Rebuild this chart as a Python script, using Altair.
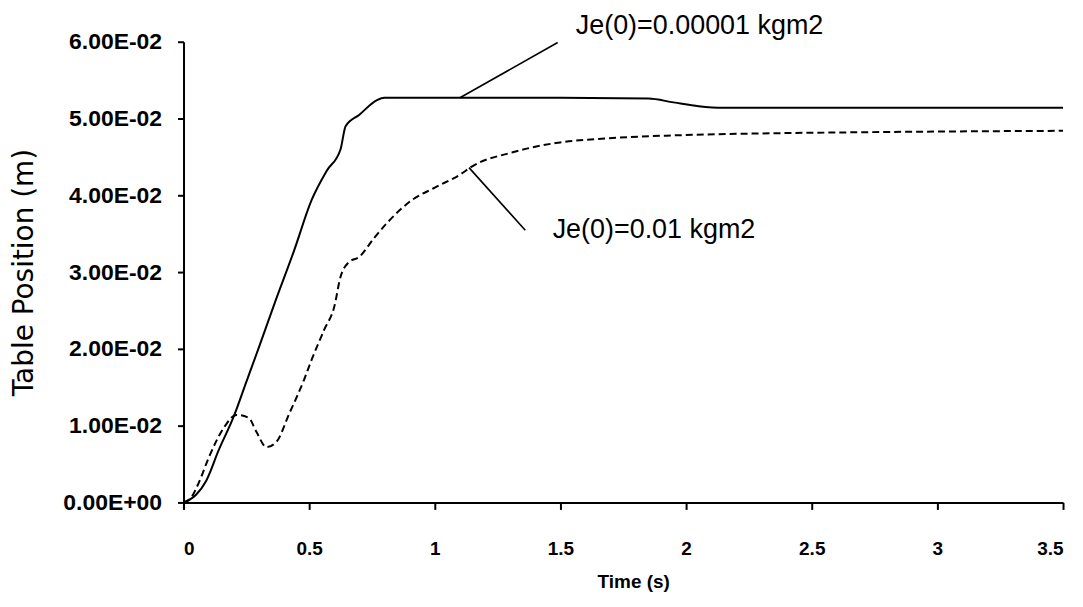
import altair as alt
import pandas as pd

# ---- data ----
solid_t = [0, 0.05, 0.09, 0.14, 0.2, 0.25, 0.3, 0.36, 0.44, 0.51, 0.57, 0.625, 0.645,
           0.70, 0.77, 0.80, 1.0, 1.5, 1.85, 1.95, 2.05, 2.15, 2.5, 3.0, 3.5]
solid_y = [0, 0.001, 0.0028, 0.0068, 0.0112, 0.0157, 0.0202, 0.0257, 0.0328, 0.0394, 0.0432,
           0.046, 0.049, 0.0505, 0.0524, 0.0527, 0.0527, 0.0527, 0.0526, 0.0521, 0.0516,
           0.0514, 0.0514, 0.0514, 0.0514]

dashed_t = [0, 0.025, 0.06, 0.10, 0.16, 0.21, 0.26, 0.29, 0.33, 0.37, 0.42, 0.48, 0.51,
            0.56, 0.60, 0.625, 0.655, 0.70, 0.76, 0.81, 0.91, 1.0, 1.11, 1.14, 1.31, 1.48,
            1.68, 1.95, 2.2, 2.66, 3.0, 3.5]
dashed_y = [0, 0.0004, 0.0025, 0.0058, 0.0097, 0.0114, 0.011, 0.0092, 0.0072, 0.0079,
            0.0115, 0.016, 0.0186, 0.0225, 0.0255, 0.0294, 0.0312, 0.032, 0.0345, 0.0364,
            0.0394, 0.041, 0.0429, 0.0436, 0.0456, 0.0468, 0.0474, 0.0478, 0.048, 0.0482,
            0.0483, 0.0484]

x_ticks = [0, 0.5, 1, 1.5, 2, 2.5, 3, 3.5]
y_ticks = [0, 0.01, 0.02, 0.03, 0.04, 0.05, 0.06]
y_tick_labels = ["0.00E+00", "1.00E-02", "2.00E-02", "3.00E-02", "4.00E-02", "5.00E-02", "6.00E-02"]

labels = ["Je(0)=0.00001 kgm2", "Je(0)=0.01 kgm2"]
label_t = [1.561, 1.469]
label_y = [0.0621, 0.0355]
leader_t1 = [1.10, 1.136]
leader_y1 = [0.0527, 0.0436]
leader_t2 = [1.489, 1.360]
leader_y2 = [0.0599, 0.03545]

# ---- tables ----
df_solid = pd.DataFrame({"t": solid_t, "y": solid_y})
df_dashed = pd.DataFrame({"t": dashed_t, "y": dashed_y})
df_leader = pd.DataFrame({"t": leader_t1, "y": leader_y1, "t2": leader_t2, "y2": leader_y2})
df_label = pd.DataFrame({"t": label_t, "y": label_y, "text": labels})

label_array = "[" + ",".join("'%s'" % s for s in y_tick_labels) + "]"

xscale = alt.Scale(domain=[0, 3.5], nice=False, zero=False)
yscale = alt.Scale(domain=[0, 0.06], nice=False)

xaxis = alt.Axis(
    values=x_ticks, grid=False, domainColor="black", domainWidth=2,
    tickColor="black", tickWidth=2, tickSize=7,
    labelExpr="'' + datum.value", labelFont="Liberation Sans", labelFontWeight="bold",
    labelFontSize=19, labelColor="black", labelPadding=30,
    titleFont="Liberation Sans", titleFontWeight="bold", titleFontSize=19, titleColor="black",
    titleX=451, titleY=79, titleBaseline="middle", titleAlign="center",
)
yaxis = alt.Axis(
    values=y_ticks, grid=False, domainColor="black", domainWidth=2,
    tickColor="black", tickWidth=2, tickSize=6,
    labelExpr=label_array + "[round(datum.value*100)]",
    labelFont="Liberation Sans", labelFontWeight="bold", labelFontSize=23,
    labelColor="black", labelPadding=16,
    titleFont="DejaVu Sans", titleFontWeight="normal", titleFontSize=28, titleColor="black",
    titleX=-159, titleY=231, titleBaseline="middle", titleAlign="center", titleAngle=270,
)

X = alt.X("t:Q", scale=xscale, axis=xaxis, title="Time (s)")
Y = alt.Y("y:Q", scale=yscale, axis=yaxis, title="Table Position (m)")

solid = alt.Chart(df_solid).mark_line(color="black", strokeWidth=2, interpolate="monotone").encode(
    x=X, y=Y, order="t:Q")
dashed = alt.Chart(df_dashed).mark_line(color="black", strokeWidth=2, strokeDash=[7, 4],
                                        interpolate="monotone").encode(x=X, y=Y, order="t:Q")
leaders = alt.Chart(df_leader).mark_rule(color="black", strokeWidth=1.6).encode(
    x=X, y=Y, x2="t2:Q", y2="y2:Q")
texts = alt.Chart(df_label).mark_text(
    align="left", baseline="middle", font="Liberation Sans", fontSize=27, color="black",
    clip=False).encode(x=X, y=Y, text="text:N")

chart = alt.layer(solid, dashed, leaders, texts).properties(
    width=882, height=462,
    autosize=alt.AutoSizeParams(type="none"),
    padding={"left": 176, "top": 33, "right": 12, "bottom": 90},
    background="white",
).configure_view(stroke=None)

chart.save("out.html", embed_options={"renderer": "svg", "actions": False})
